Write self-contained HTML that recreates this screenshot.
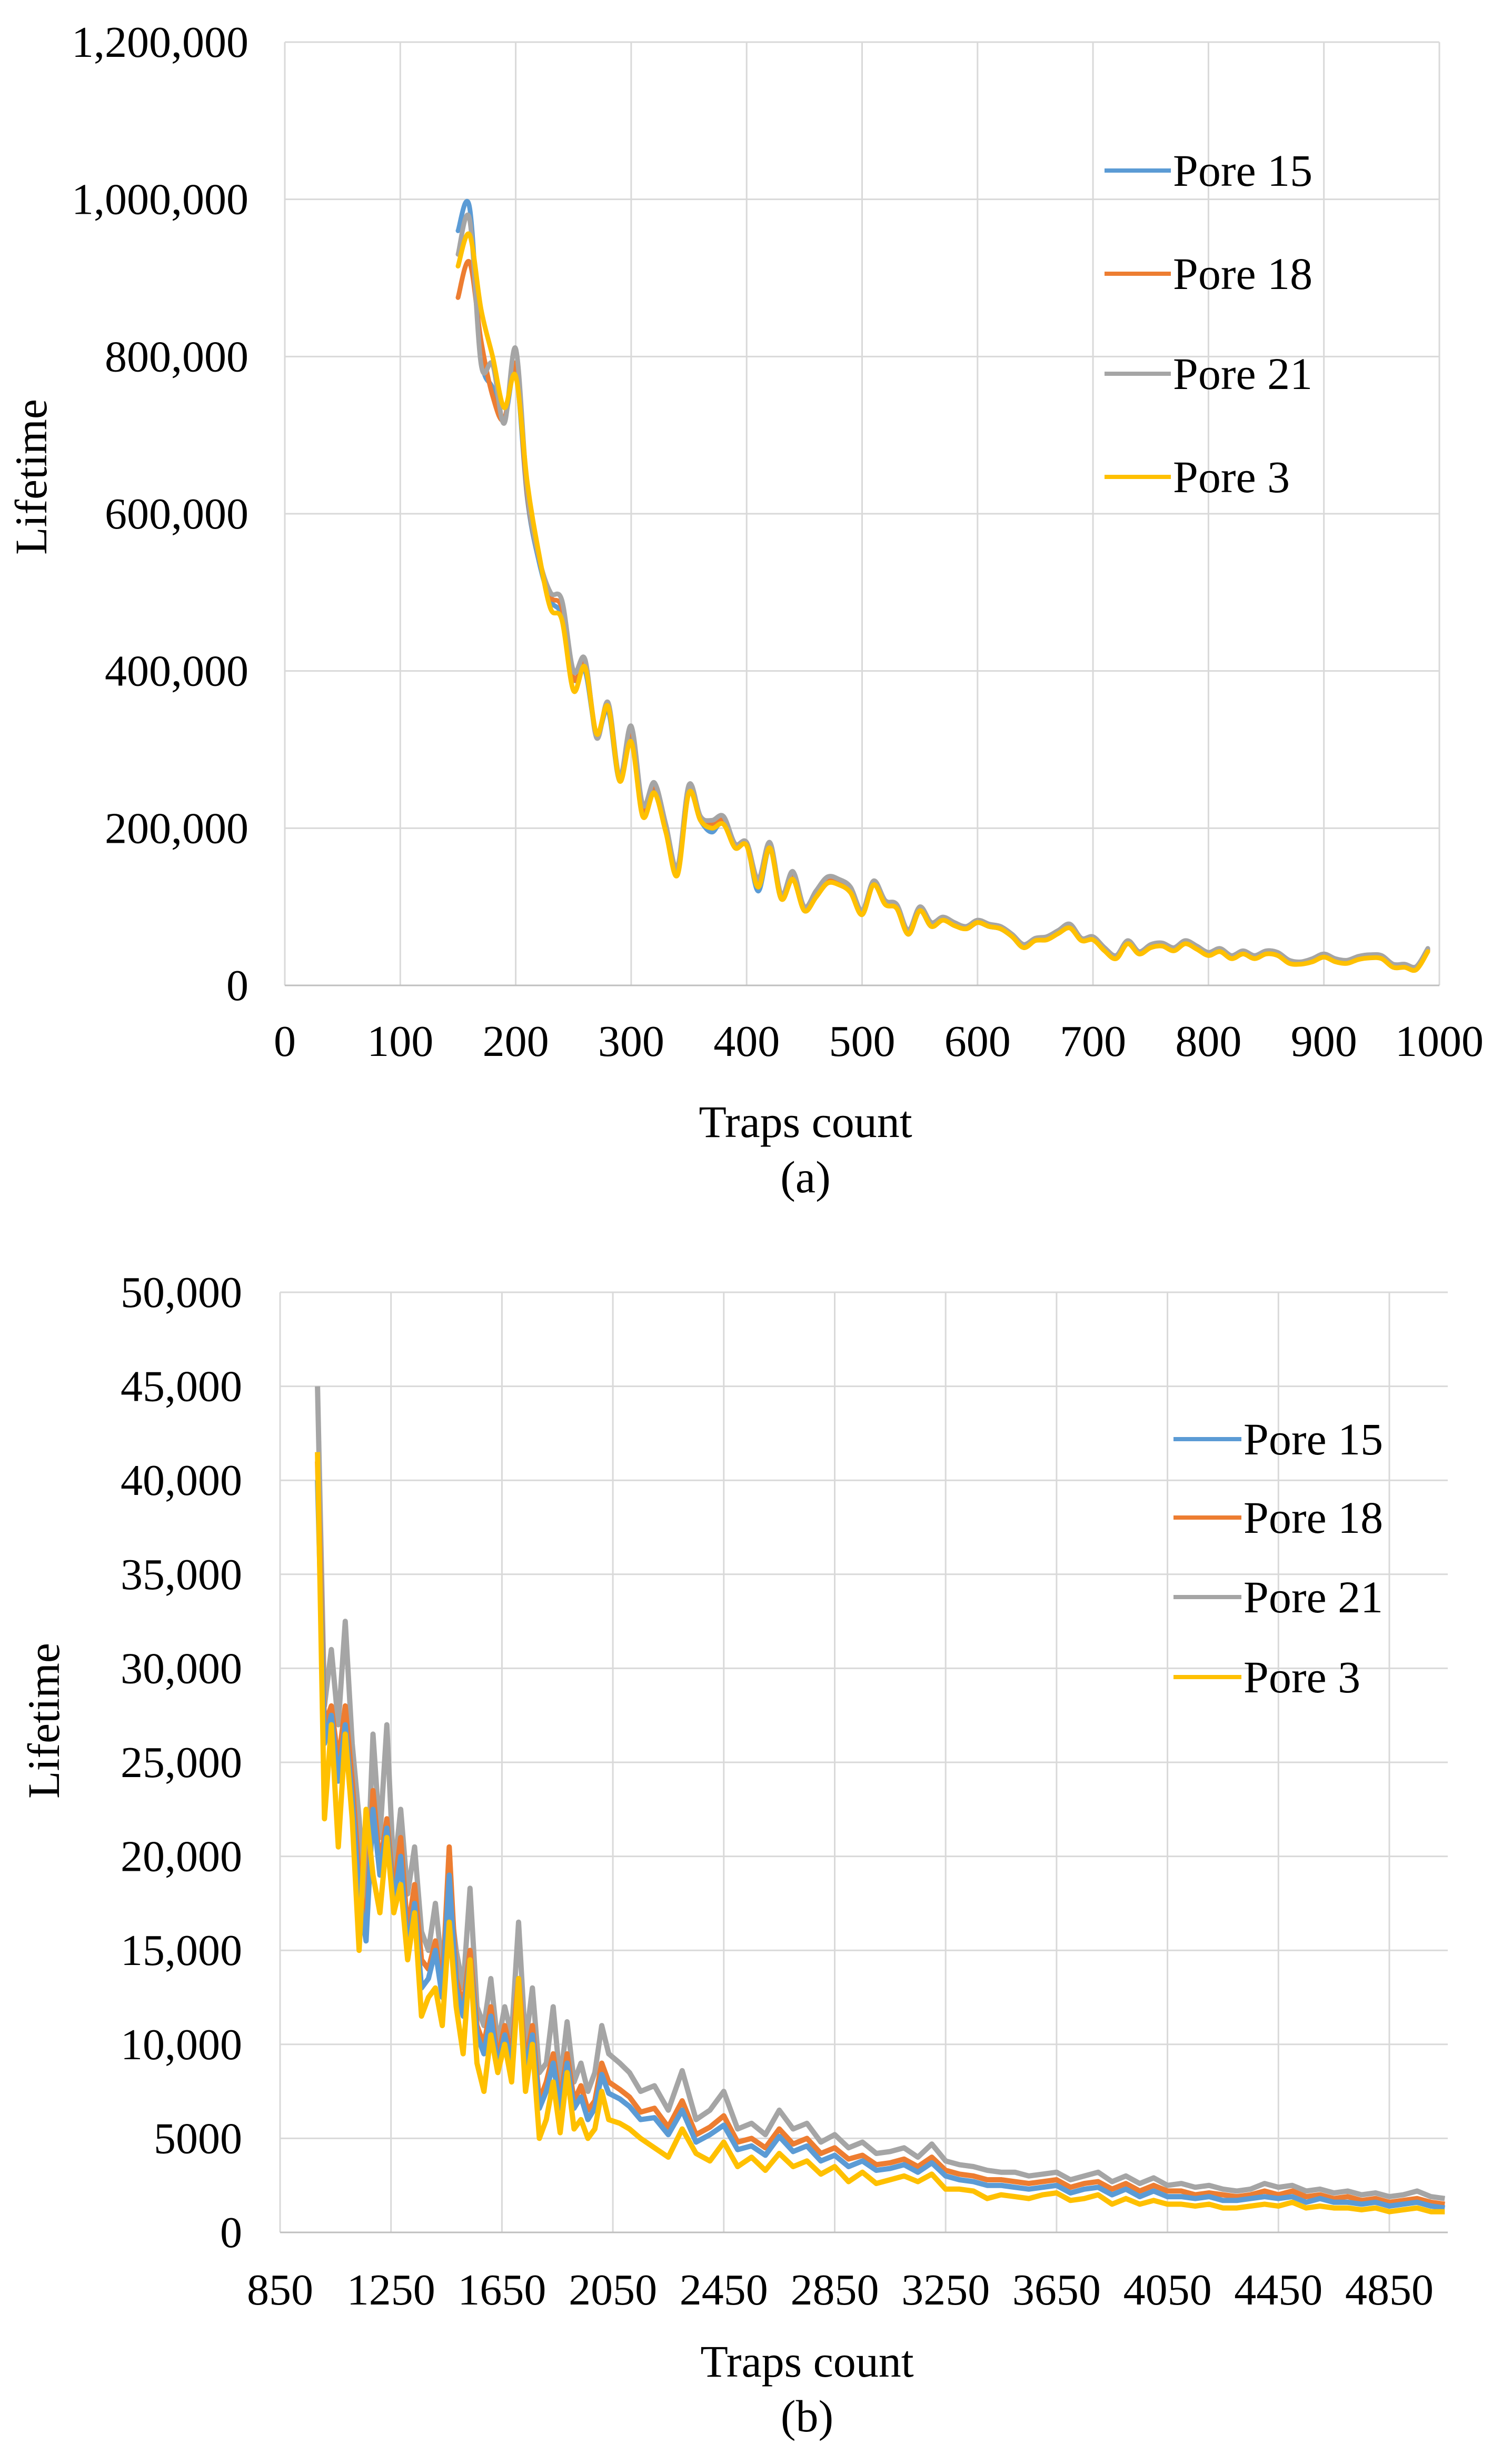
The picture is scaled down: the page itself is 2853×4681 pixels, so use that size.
<!DOCTYPE html>
<html><head><meta charset="utf-8"><style>
html,body{margin:0;padding:0;background:#fff;}
svg{display:block;}
text{font-family:"Liberation Serif",serif;fill:#000;}
</style></head><body>
<svg id="svg" width="2853" height="4681" viewBox="0 0 2853 4681" xmlns="http://www.w3.org/2000/svg">
<g id="chartA"></g>
<g id="chartB"></g>
</svg>
<script>
// ---- Chart (a) data ----
const aX = [150,160,170,180,190,200,210,220,230,240,250,260,270,280,290,300,310,320,330,340,350,360,370,380,390,400,410,420,430,440,450,460,470,480,490,500,510,520,530,540,550,560,570,580,590,600,610,620,630,640,650,660,670,680,690,700,710,720,730,740,750,760,770,780,790,800,810,820,830,840,850,860,870,880,890,900,910,920,930,940,950,960,970,980,990];
const aP15 = [960,990,800,760,720,780,620,540,490,470,390,400,320,350,260,320,220,250,200,145,245,210,195,210,175,180,120,175,110,140,95,115,135,130,120,90,130,105,100,65,95,75,85,78,72,80,75,72,62,48,58,60,68,75,58,60,45,35,55,40,50,52,45,55,48,40,45,35,42,35,42,40,30,28,32,38,32,30,35,37,36,25,25,22,45];
const aP18 = [875,920,820,750,720,790,625,545,495,480,390,410,320,355,265,325,225,255,200,150,250,215,205,210,180,180,130,180,115,140,100,115,135,130,120,92,130,105,100,68,98,78,85,78,72,80,76,72,63,50,58,60,68,75,58,60,46,36,55,41,50,52,46,55,48,40,45,36,42,36,42,40,30,29,32,38,32,30,35,37,36,25,25,22,45];
const aP21 = [930,975,790,790,715,810,630,545,500,490,400,415,315,360,265,330,230,258,205,150,255,215,210,215,180,182,135,182,115,145,100,120,138,135,125,95,133,108,103,70,100,80,87,80,75,83,78,75,65,52,60,62,70,78,60,62,48,38,57,43,52,54,48,57,50,42,47,38,44,38,44,42,32,30,34,40,34,32,37,39,38,27,27,24,47];
const aP3 = [915,955,860,800,735,775,640,550,480,465,375,405,320,355,260,310,215,245,195,140,245,210,200,205,175,178,125,175,110,135,95,112,130,128,118,90,128,103,98,65,95,75,83,76,72,80,75,72,62,48,57,58,66,73,57,58,44,34,53,40,48,50,44,53,46,38,43,34,40,34,40,38,28,27,30,36,30,28,33,35,34,23,23,20,43];
const aYTicks = ["0","200,000","400,000","600,000","800,000","1,000,000","1,200,000"];
const aXTicks = ["0","100","200","300","400","500","600","700","800","900","1000"];

// ---- Chart (b) data ----
const bX = [985,1010,1035,1060,1085,1110,1135,1160,1185,1210,1235,1260,1285,1310,1335,1360,1385,1410,1435,1460,1485,1510,1535,1560,1585,1610,1635,1660,1685,1710,1735,1760,1785,1810,1835,1860,1885,1910,1935,1960,1985,2010,2035,2075,2110,2150,2200,2250,2300,2350,2400,2450,2500,2550,2600,2650,2700,2750,2800,2850,2900,2950,3000,3050,3100,3150,3200,3250,3300,3350,3400,3450,3500,3550,3600,3650,3700,3750,3800,3850,3900,3950,4000,4050,4100,4150,4200,4250,4300,4350,4400,4450,4500,4550,4600,4650,4700,4750,4800,4850,4900,4950,5000,5050];
const bP21 = [45.0,28,31,27,32.5,26,22,17,26.5,21,27,19,22.5,18,20.5,16,15,17.5,14,18,15,13,18.3,12,11,13.5,10,12,10.5,16.5,10,13,8.5,9,12,8,11.2,8,9,7.5,8.5,11,9.5,9,8.5,7.5,7.8,6.5,8.6,6,6.5,7.5,5.5,5.8,5.2,6.5,5.5,5.8,4.8,5.2,4.5,4.8,4.2,4.3,4.5,4,4.7,3.8,3.6,3.5,3.3,3.2,3.2,3.0,3.1,3.2,2.8,3,3.2,2.7,3,2.6,2.9,2.5,2.6,2.4,2.5,2.3,2.2,2.3,2.6,2.4,2.5,2.2,2.3,2.1,2.2,2.0,2.1,1.9,2.0,2.2,1.9,1.8];
const bP18 = [41,27,28,25,28,24,19,16,23.5,19.5,22,18,21,16,18.5,14.5,14,15.5,13,20.5,13.5,12,15,11,10,12,9.2,11,9.5,13.5,9,11,7,8,9.5,7,9.5,7,7.8,6.5,7,9,8,7.6,7.2,6.4,6.6,5.6,7,5.2,5.6,6.2,4.8,5,4.5,5.5,4.7,5,4.2,4.5,3.9,4.1,3.6,3.7,3.9,3.5,4,3.3,3.1,3.0,2.8,2.8,2.7,2.6,2.7,2.8,2.4,2.6,2.7,2.3,2.6,2.2,2.5,2.2,2.2,2.0,2.1,2.0,1.9,2.0,2.2,2.0,2.2,1.9,2.0,1.8,1.9,1.7,1.8,1.6,1.7,1.8,1.6,1.5];
const bP15 = [40,26,27.5,24,27,23,18,15.5,22.5,19,21.5,17.5,20,15,17.5,13,13.5,15,12.5,19,13,11.5,14.5,10.5,9.5,11.5,8.8,10.5,9,13,8.6,10.5,6.6,7.5,9,6.6,9,6.6,7.2,6,6.6,8.4,7.4,7.1,6.7,6,6.1,5.2,6.5,4.8,5.2,5.7,4.4,4.6,4.1,5.1,4.3,4.6,3.8,4.1,3.5,3.8,3.3,3.4,3.6,3.2,3.7,3.0,2.8,2.7,2.5,2.5,2.4,2.3,2.4,2.5,2.1,2.3,2.4,2.0,2.3,1.9,2.2,1.9,1.9,1.8,1.9,1.7,1.7,1.8,1.9,1.8,1.9,1.6,1.8,1.6,1.6,1.5,1.6,1.4,1.5,1.6,1.4,1.3];
const bP3 = [41.5,22,27,20.5,26.5,22,15,22.5,19,17,21,17,18.5,14.5,17,11.5,12.5,13,11,16.5,12,9.5,14.5,9,7.5,10.5,8.5,10,8,13.5,7.5,10,5,6,8,5.3,8.5,5.5,6,5,5.5,7.5,6,5.8,5.5,5,4.5,4,5.5,4.2,3.8,4.8,3.5,4,3.3,4.2,3.5,3.8,3.1,3.5,2.7,3.2,2.6,2.8,3,2.7,3.1,2.3,2.3,2.2,1.8,2.0,1.9,1.8,2.0,2.1,1.7,1.8,2.0,1.5,1.8,1.5,1.7,1.5,1.5,1.4,1.5,1.3,1.3,1.4,1.5,1.4,1.6,1.3,1.4,1.3,1.3,1.2,1.3,1.1,1.2,1.3,1.1,1.1];
const bYTicks = ["0","5000","10,000","15,000","20,000","25,000","30,000","35,000","40,000","45,000","50,000"];
const bXTicks = ["850","1250","1650","2050","2450","2850","3250","3650","4050","4450","4850"];

const NS = "http://www.w3.org/2000/svg";
function mk(parent, tag, attrs, txt){
  const e = document.createElementNS(NS, tag);
  for (const k in attrs) e.setAttribute(k, attrs[k]);
  if (txt !== undefined) e.textContent = txt;
  parent.appendChild(e);
  return e;
}
const colors = {p15:"#5b9bd5", p18:"#ed7d31", p21:"#a5a5a5", p3:"#ffc000"};

function smoothPath(pts){
  let d = "M" + pts[0][0].toFixed(1) + "," + pts[0][1].toFixed(1);
  for (let i=0;i<pts.length-1;i++){
    const p0 = pts[Math.max(0,i-1)], p1 = pts[i], p2 = pts[i+1], p3 = pts[Math.min(pts.length-1,i+2)];
    const c1x = p1[0] + (p2[0]-p0[0])/6, c1y = p1[1] + (p2[1]-p0[1])/6;
    const c2x = p2[0] - (p3[0]-p1[0])/6, c2y = p2[1] - (p3[1]-p1[1])/6;
    d += " C"+c1x.toFixed(1)+","+c1y.toFixed(1)+" "+c2x.toFixed(1)+","+c2y.toFixed(1)+" "+p2[0].toFixed(1)+","+p2[1].toFixed(1);
  }
  return d;
}
function linePath(pts){
  return "M" + pts.map(p=>p[0].toFixed(1)+","+p[1].toFixed(1)).join(" L");
}

// ===== Chart A =====
(function(){
  const g = document.getElementById("chartA");
  const L=541, R=2734, T=80, B=1872;
  const xS = v => L + (v-0)/1000*(R-L);
  const yS = v => B - v/1200*(B-T);
  aXTicks.forEach((t,i)=>{
    const x = xS(i*100);
    const ln = mk(g,"line",{x1:x,y1:T,x2:x,y2:B,stroke:"#d9d9d9","stroke-width":3});
    
    
    const tx = mk(g,"text",{x:x,y:2006,"font-size":84,"text-anchor":"middle"},t);
    
    
  });
  aYTicks.forEach((t,i)=>{
    const y = yS(i*200);
    const ln = mk(g,"line",{x1:L,y1:y,x2:R,y2:y,stroke:i===0?"#bfbfbf":"#d9d9d9","stroke-width":3});
    
    
    const tx = mk(g,"text",{x:472,y:y+28,"font-size":84,"text-anchor":"end"},t);
    
    
  });
  const series = [["p15",aP15],["p18",aP18],["p21",aP21],["p3",aP3]];
  series.forEach(([k,arr])=>{
    const pts = aX.map((x,i)=>[xS(x), yS(arr[i])]);
    const p = mk(g,"path",{d:smoothPath(pts),fill:"none",stroke:colors[k],"stroke-width":9,"stroke-linejoin":"round","stroke-linecap":"round"});
    
    
  });
  const legend = [["p15","Pore 15",324],["p18","Pore 18",520],["p21","Pore 21",710],["p3","Pore 3",906]];
  legend.forEach(([k,lab,y])=>{
    const ln = mk(g,"line",{x1:2098,y1:y,x2:2224,y2:y,stroke:colors[k],"stroke-width":8});
    
    
    const tx = mk(g,"text",{x:2228,y:y+29,"font-size":86},lab);
    
    
  });
  const xt = mk(g,"text",{x:1530,y:2160,"font-size":86,"text-anchor":"middle"},"Traps count");
  
  
  const cap = mk(g,"text",{x:1530,y:2265,"font-size":86,"text-anchor":"middle"},"(a)");
  
  
  const yt = mk(g,"text",{x:0,y:0,"font-size":86,"text-anchor":"middle",transform:"translate(88,906) rotate(-90)"},"Lifetime");
  
  
})();

// ===== Chart B =====
(function(){
  const g = document.getElementById("chartB");
  const L=532, R=2750, T=2455, B=4241;
  const xS = v => L + (v-850)/400*210.7;
  const yS = v => B - v/50*(B-T);
  bXTicks.forEach((t,i)=>{
    const x = xS(850+i*400);
    const ln = mk(g,"line",{x1:x,y1:T,x2:x,y2:B,stroke:"#d9d9d9","stroke-width":3});
    
    
    const tx = mk(g,"text",{x:x,y:4378,"font-size":84,"text-anchor":"middle"},t);
    
    
  });
  bYTicks.forEach((t,i)=>{
    const y = yS(i*5);
    const ln = mk(g,"line",{x1:L,y1:y,x2:R,y2:y,stroke:i===0?"#bfbfbf":"#d9d9d9","stroke-width":3});
    
    
    const tx = mk(g,"text",{x:460,y:y+28,"font-size":84,"text-anchor":"end"},t);
    
    
  });
  const series = [["p21",bP21],["p18",bP18],["p15",bP15],["p3",bP3]];
  series.forEach(([k,arr])=>{
    const pts = bX.map((x,i)=>[xS(x), yS(arr[i])]);
    const p = mk(g,"path",{d:linePath(pts),fill:"none",stroke:colors[k],"stroke-width":10,"stroke-linejoin":"round"});
    
    
  });
  const legend = [["p15","Pore 15",2734],["p18","Pore 18",2883],["p21","Pore 21",3034],["p3","Pore 3",3186]];
  legend.forEach(([k,lab,y])=>{
    const ln = mk(g,"line",{x1:2229,y1:y,x2:2358,y2:y,stroke:colors[k],"stroke-width":8});
    
    
    const tx = mk(g,"text",{x:2362,y:y+29,"font-size":86},lab);
    
    
  });
  const xt = mk(g,"text",{x:1533,y:4515,"font-size":86,"text-anchor":"middle"},"Traps count");
  
  
  const cap = mk(g,"text",{x:1533,y:4619,"font-size":86,"text-anchor":"middle"},"(b)");
  
  
  const yt = mk(g,"text",{x:0,y:0,"font-size":86,"text-anchor":"middle",transform:"translate(112,3269) rotate(-90)"},"Lifetime");
  
  
})();
</script>
</body></html>
